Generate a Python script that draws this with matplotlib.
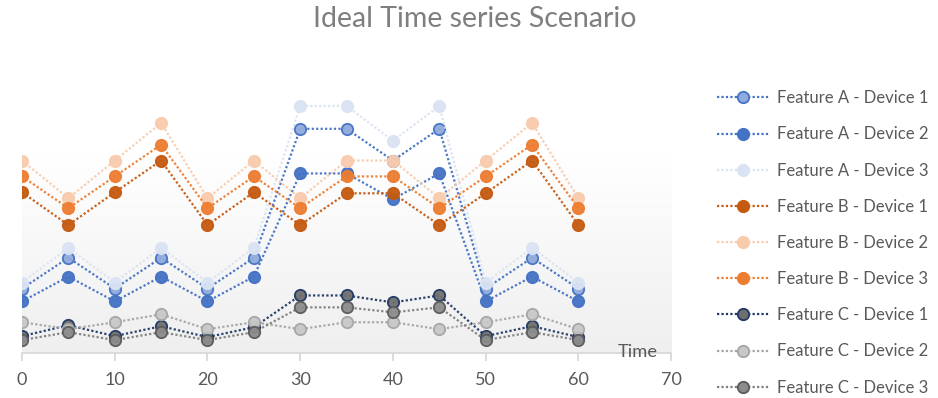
import numpy as np
import matplotlib
matplotlib.use("Agg")
from matplotlib import pyplot as plt
from matplotlib.lines import Line2D

plt.rcParams['font.family'] = ['Lato', 'DejaVu Sans']

# sample times
time = [0, 5, 10, 15, 20, 25, 30, 35, 40, 45, 50, 55, 60]

# feature readings per device
featA_dev1 = [6.5, 9.6, 6.5, 9.6, 6.5, 9.6, 22.6, 22.6, 19.4, 22.6, 6.5, 9.6, 6.5]
featA_dev2 = [5.2, 7.7, 5.2, 7.7, 5.2, 7.7, 18.1, 18.1, 15.5, 18.1, 5.2, 7.7, 5.2]
featA_dev3 = [7.1, 10.6, 7.1, 10.6, 7.1, 10.6, 24.9, 24.9, 21.4, 24.9, 7.1, 10.6, 7.1]
featB_dev1 = [16.2, 12.9, 16.2, 19.4, 12.9, 16.2, 12.9, 16.1, 16.1, 12.9, 16.1, 19.4, 12.9]
featB_dev2 = [19.4, 15.6, 19.4, 23.2, 15.6, 19.4, 15.6, 19.4, 19.4, 15.6, 19.4, 23.2, 15.6]
featB_dev3 = [17.8, 14.6, 17.8, 21.0, 14.6, 17.8, 14.6, 17.8, 17.8, 14.6, 17.8, 21.0, 14.6]
featC_dev1 = [1.7, 2.8, 1.7, 2.7, 1.6, 2.6, 5.8, 5.8, 5.1, 5.8, 1.7, 2.7, 1.6]
featC_dev2 = [3.1, 2.4, 3.1, 3.9, 2.4, 3.1, 2.4, 3.1, 3.1, 2.4, 3.1, 3.9, 2.4]
featC_dev3 = [1.3, 2.1, 1.3, 2.1, 1.3, 2.1, 4.6, 4.6, 4.1, 4.6, 1.3, 2.1, 1.3]

labels = ['Feature A - Device 1', 'Feature A - Device 2', 'Feature A - Device 3',
          'Feature B - Device 1', 'Feature B - Device 2', 'Feature B - Device 3',
          'Feature C - Device 1', 'Feature C - Device 2', 'Feature C - Device 3']
series = [featA_dev1, featA_dev2, featA_dev3,
          featB_dev1, featB_dev2, featB_dev3,
          featC_dev1, featC_dev2, featC_dev3]

# (line colour, marker face, marker edge)
styles = [('#4472c4', '#8faadc', '#4472c4'),
          ('#4472c4', '#4472c4', '#4472c4'),
          ('#dae3f3', '#dae3f3', '#dae3f3'),
          ('#c55a11', '#c55a11', '#c55a11'),
          ('#f8cbad', '#f8cbad', '#f8cbad'),
          ('#ed7d31', '#ed7d31', '#ed7d31'),
          ('#203864', '#6f6f6f', '#203864'),
          ('#a5a5a5', '#c8c8c8', '#a5a5a5'),
          ('#7f7f7f', '#8c8c8c', '#5a5a5a')]

fig = plt.figure(figsize=(9.38, 3.98), dpi=100)
ax = fig.add_axes([0.0235, 0.1131, 0.692, 0.648])

# soft grey gradient in the lower part of the plot area (white at top)
grad = np.linspace(0.0, 1.0, 256).reshape(-1, 1)
ax.imshow(grad, extent=[0, 70, 0, 20], aspect='auto', zorder=0,
          cmap=matplotlib.colors.LinearSegmentedColormap.from_list('g', ['#efefef', '#ffffff']),
          origin='lower')

handles = []
for i in range(len(series)):
    lc, fc, ec = styles[i]
    ax.plot(time, series[i], linestyle=(0, (1, 1)), color=lc, linewidth=1.6,
            marker='o', markersize=8.2, markerfacecolor=fc, markeredgecolor=ec,
            markeredgewidth=1.3, alpha=0.95, zorder=2 + i)
    handles.append(Line2D([0], [0], linestyle=(0, (1, 1)), color=lc, linewidth=1.6,
                          marker='o', markersize=8.2, markerfacecolor=fc,
                          markeredgecolor=ec, markeredgewidth=1.3))

ax.set_xlim(0, 70)
ax.set_ylim(0, 26)
ax.set_xticks(range(0, 71, 10))
ax.set_yticks([])
for s in ['top', 'right', 'left']:
    ax.spines[s].set_visible(False)
ax.spines['bottom'].set_color('#d9d9d9')
ax.spines['bottom'].set_linewidth(1.3)
ax.tick_params(axis='x', colors='#d9d9d9', length=6, width=1.3, pad=8,
               labelcolor='#595959', labelsize=13)

ax.text(66.4, 0.05, 'Time', ha='center', va='center', fontsize=13.2,
        color='#595959', zorder=20)

fig.text(0.506, 0.952, 'Ideal Time series Scenario', ha='center', va='center',
         fontsize=20.5, color='#7f7f7f')

fig.legend(handles, labels, loc='upper left', bbox_to_anchor=(0.757, 0.79),
           frameon=False, fontsize=12.0, labelcolor='#595959', handlelength=3.15,
           handletextpad=0.47, labelspacing=1.21, borderaxespad=0)

fig.savefig('out.png', dpi=100)
